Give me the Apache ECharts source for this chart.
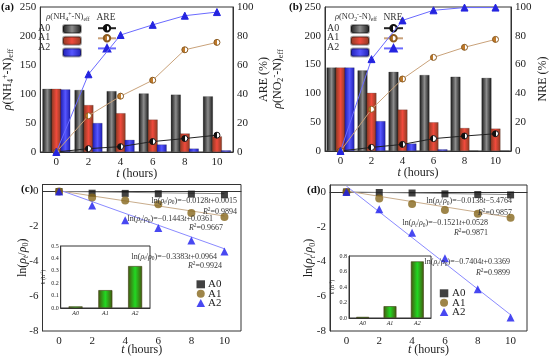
<!DOCTYPE html>
<html><head><meta charset="utf-8">
<script src="https://cdn.jsdelivr.net/npm/echarts@6/dist/echarts.min.js"></script>
<style>html,body{margin:0;padding:0;background:#fff}#c{width:550px;height:357px}</style>
</head><body><div id="c"></div>
<script>
// ---- data ----
const times = ['0','2','4','6','8','10'];
// panel (a): rho(NH4+-N)eff (left axis) and ARE % (right axis)
const aBarA0 = [109, 107, 105, 101, 99, 96];
const aBarA1 = [109, 81, 67, 56, 32, 27];
const aBarA2 = [108, 50, 21, 13, 6, 3];
const areA0 = [0, 2.3, 3.7, 7.2, 9.3, 11.6];
const areA1 = [0, 25, 38.5, 49.5, 70.5, 75.6];
const areA2 = [0, 53.6, 80.7, 87.7, 94, 96.5];
// panel (b): rho(NO2--N)eff and NRE %
const bBarA0 = [145, 140, 137.5, 132, 129, 127];
const bBarA1 = [145, 101, 72, 50, 40, 39];
const bBarA2 = [145, 52, 13, 3, 0.4, 0.4];
const nreA0 = [0, 2.5, 4.6, 8.6, 10.4, 12];
const nreA1 = [0, 29, 50, 65, 72, 77.5];
const nreA2 = [0, 63.8, 90.7, 97.7, 99.6, 99.6];
// panel (c): ln(rho_t/rho_0)
const cA0 = [0, -0.1, -0.11, -0.13, -0.15, -0.19];
const cA1 = [0, -0.34, -0.52, -0.73, -1.24, -1.47];
const cA2 = [0, -0.8, -1.65, -2.1, -2.81, -3.44];
// fit line values at t=0 and t=10
const cFitA0 = [0.0015, -0.1265];
const cFitA1 = [0.036, -1.407];
const cFitA2 = [0.096, -3.287];
// panel (d)
const dA0 = [0, -0.03, -0.06, -0.11, -0.15, -0.17];
const dA1 = [0, -0.37, -0.69, -1.04, -1.25, -1.48];
const dA2 = [0, -1.0, -2.35, -3.81, -5.6, -7.23];
const dFitA0 = [0, -0.15];
const dFitA1 = [0.053, -1.468];
const dFitA2 = [0.337, -7.067];
// insets: rate constants k (h^-1)
const insetCats = ['A0','A1','A2'];
const kC = [0.0128, 0.144, 0.338];
const kD = [0.014, 0.152, 0.73];
const seriesNames = ['A0','A1','A2'];
const eqC = [
  ['−0.0128', '+0.0015', '0.9894'],
  ['−0.1443', '+0.0361', '0.9667'],
  ['−0.3383', '+0.0964', '0.9924']
];
const eqD = [
  ['−0.0138', '−5.4764', '0.9857'],
  ['−0.1521', '+0.0528', '0.9871'],
  ['−0.7404', '+0.3369', '0.9899']
];

// ---- styles ----
const F = "'Liberation Serif', 'Times New Roman', serif";
const G = echarts.graphic;
const hg = (a, b) => new G.LinearGradient(0, 0, 1, 0, [{offset: 0, color: a}, {offset: 0.5, color: b}, {offset: 1, color: a}]);
const half = (c) => new G.LinearGradient(0, 0, 1, 0, [{offset: 0, color: c}, {offset: 0.5, color: c}, {offset: 0.5, color: '#fff'}, {offset: 1, color: '#fff'}]);
const colA0 = hg('#151515', '#8c8c8c');
const colA1 = hg('#8a3a22', '#f04a3c');
const colA2 = hg('#1c1cb0', '#5656ff');
const colK = hg('#45560f', '#22d822');
const mkRich = (s) => ({
  i: {fontFamily: F, fontStyle: 'italic', fontSize: s, color: '#222'},
  sub: {fontFamily: F, fontSize: s * 0.68, padding: [s * 0.55, 0, 0, 0], color: '#222'},
  isub: {fontFamily: F, fontStyle: 'italic', fontSize: s * 0.68, padding: [s * 0.55, 0, 0, 0], color: '#222'},
  sup: {fontFamily: F, fontSize: s * 0.68, padding: [0, 0, s * 0.5, 0], color: '#222'}
});
const rich = mkRich(12);
const richS = mkRich(8);
const axLine = {lineStyle: {color: '#333', width: 1}};
const tick = {inside: true, length: 3, lineStyle: {color: '#333'}};
const lab = {fontFamily: F, fontSize: 11, color: '#222'};

function xCat(gi, extra) {
  return Object.assign({
    type: 'category', gridIndex: gi, data: times, boundaryGap: true,
    axisLine: axLine, axisTick: Object.assign({alignWithLabel: true}, tick),
    axisLabel: Object.assign({margin: 5}, lab),
    name: '{i|t} (hours)', nameLocation: 'middle', nameGap: 15.5, nameMoveOverlap: false,
    nameTextStyle: {fontFamily: F, fontSize: 12, color: '#222', rich: rich}
  }, extra || {});
}
function yVal(gi, opts) {
  return Object.assign({
    type: 'value', gridIndex: gi, splitLine: {show: false},
    axisLine: Object.assign({show: true}, axLine), axisTick: tick,
    axisLabel: Object.assign({margin: 4}, lab),
    nameLocation: 'middle', nameRotate: 90, nameMoveOverlap: false,
    nameTextStyle: {fontFamily: F, fontSize: 12, color: '#222', rich: rich}
  }, opts);
}
const grids = [
  {left: 36, top: 7, width: 197, height: 145},
  {left: 325, top: 7, width: 189, height: 144},
  {left: 42.5, top: 184.5, width: 198.5, height: 148.5},
  {left: 330, top: 185, width: 197, height: 148},
  {left: 60.7, top: 246, width: 89.3, height: 62},
  {left: 349, top: 256, width: 82, height: 62}
].map((g, i) => Object.assign({show: true, borderColor: '#333', borderWidth: 1, backgroundColor: i >= 4 ? '#fff' : 'transparent', z: i >= 4 ? 5 : 0}, g));

const insetX = (gi) => ({type: 'category', gridIndex: gi, data: insetCats, axisLine: axLine, axisTick: {show: false},
  axisLabel: {fontFamily: F, fontSize: 6, fontStyle: 'italic', color: '#222', margin: 2}, z: 6});
const xAxis = [xCat(0), xCat(1), xCat(2, {nameGap: 13}), xCat(3, {nameGap: 13}), insetX(4), insetX(5)];
const hideOdd = v => (Math.abs(v % 2) < 1e-9 ? String(v) : '');
const insetY = (gi, max, itv, gap) => yVal(gi, {min: 0, max: max, interval: itv, name: '{i|k} (h{sup|-1})', nameGap: gap, z: 6,
    axisTick: {inside: true, length: 2}, nameTextStyle: {fontFamily: F, fontSize: 6, color: '#222', rich: mkRich(6)},
    axisLabel: {fontFamily: F, fontSize: 6, color: '#222', margin: 2, formatter: v => v.toFixed(1)}});
const yAxis = [
  yVal(0, {min: 0, max: 250, interval: 50, name: '{i|ρ}(NH{sub|4}{sup|+}-N){sub|eff}', nameGap: 25}),
  yVal(0, {min: 0, max: 100, interval: 20, position: 'right', name: 'ARE (%)', nameGap: 25}),
  yVal(1, {min: 0, max: 250, interval: 50, name: '{i|ρ}(NO{sub|2}{sup|-}-N){sub|eff}', nameGap: 40}),
  yVal(1, {min: 0, max: 100, interval: 20, position: 'right', name: 'NRE (%)', nameGap: 26}),
  yVal(2, {min: -8, max: 0.4, interval: 2, name: 'ln({i|ρ}{isub|t}/{i|ρ}{sub|0})', nameGap: 12.5,
    axisLabel: Object.assign({margin: 4, formatter: hideOdd}, lab)}),
  yVal(3, {min: -8, max: 0.4, interval: 2, name: 'ln({i|ρ}{isub|t}/{i|ρ}{sub|0})', nameGap: 13.5,
    axisLabel: Object.assign({margin: 4, formatter: hideOdd}, lab)}),
  insetY(4, 0.5, 0.1, 14),
  insetY(5, 0.8, 0.2, 13)
];

function bar(name, xi, yi, data, color) {
  return {type: 'bar', name: name, xAxisIndex: xi, yAxisIndex: yi, data: data, barWidth: 10, barGap: '-10%',
    itemStyle: {color: color, borderColor: 'rgba(0,0,0,0.35)', borderWidth: 0.5}};
}
function rline(name, xi, yi, data, lc, sym, fill, bc, size) {
  return {type: 'line', name: name, xAxisIndex: xi, yAxisIndex: yi, data: data, symbol: sym, symbolSize: size,
    lineStyle: {color: lc, width: 1}, itemStyle: {color: fill, borderColor: bc, borderWidth: 1}, z: 4};
}
function pts(name, xi, yi, data, sym, color, size) {
  return {type: 'scatter', name: name, xAxisIndex: xi, yAxisIndex: yi, data: data, symbol: sym, symbolSize: size,
    itemStyle: {color: color}, z: 4};
}
function fit(name, xi, yi, f, color) {
  return {type: 'line', name: name, xAxisIndex: xi, yAxisIndex: yi,
    data: [[times[0], f[0]], [times[times.length - 1], f[1]]], symbol: 'none',
    lineStyle: {color: color, width: 1}, z: 3, silent: true};
}
const fitCols = ['#8a8a8a', '#c9ad8c', '#8a8aff'];
const series = [
  bar('a-A0', 0, 0, aBarA0, colA0), bar('a-A1', 0, 0, aBarA1, colA1), bar('a-A2', 0, 0, aBarA2, colA2),
  rline('aL-A0', 0, 1, areA0, '#222', 'circle', half('#111'), '#111', 6),
  rline('aL-A1', 0, 1, areA1, '#c9a27a', 'circle', half('#c07a2a'), '#8a5a20', 6),
  rline('aL-A2', 0, 1, areA2, '#6a6aff', 'triangle', '#2424e0', '#2424e0', 7),
  bar('b-A0', 1, 2, bBarA0, colA0), bar('b-A1', 1, 2, bBarA1, colA1), bar('b-A2', 1, 2, bBarA2, colA2),
  rline('bL-A0', 1, 3, nreA0, '#222', 'circle', half('#111'), '#111', 6),
  rline('bL-A1', 1, 3, nreA1, '#c9a27a', 'circle', half('#c07a2a'), '#8a5a20', 6),
  rline('bL-A2', 1, 3, nreA2, '#6a6aff', 'triangle', '#2424e0', '#2424e0', 7),
  fit('cf0', 2, 4, cFitA0, fitCols[0]), fit('cf1', 2, 4, cFitA1, fitCols[1]), fit('cf2', 2, 4, cFitA2, fitCols[2]),
  pts('c-A0', 2, 4, cA0, 'rect', '#111', 7), pts('c-A1', 2, 4, cA1, 'circle', '#86661c', 8), pts('c-A2', 2, 4, cA2, 'triangle', '#1a1aee', 8),
  fit('df0', 3, 5, dFitA0, fitCols[0]), fit('df1', 3, 5, dFitA1, fitCols[1]), fit('df2', 3, 5, dFitA2, fitCols[2]),
  pts('d-A0', 3, 5, dA0, 'rect', '#111', 7), pts('d-A1', 3, 5, dA1, 'circle', '#86661c', 8), pts('d-A2', 3, 5, dA2, 'triangle', '#1a1aee', 8),
  {type: 'bar', name: 'kc', xAxisIndex: 4, yAxisIndex: 6, data: kC, barWidth: '47%', z: 7,
   itemStyle: {color: colK, borderColor: '#3a3a10', borderWidth: 0.6}},
  {type: 'bar', name: 'kd', xAxisIndex: 5, yAxisIndex: 7, data: kD, barWidth: '47%', z: 7,
   itemStyle: {color: colK, borderColor: '#3a3a10', borderWidth: 0.6}}
];
function iconLegend(p, left, top, w, h, gap) {
  return {orient: 'vertical', left: left, top: top, padding: 0, itemWidth: w, itemHeight: h, itemGap: gap,
    data: seriesNames.map(s => p + '-' + s), formatter: () => '', selectedMode: false,
    textStyle: {fontSize: 1, lineHeight: 1, padding: 0}};
}
const legend = [
  iconLegend('a', 62, 24, 18, 8, 1.7), iconLegend('aL', 97, 24, 18, 8, 1.7),
  iconLegend('b', 350, 24, 18, 8, 1.7), iconLegend('bL', 383, 24, 19, 8, 1.7),
  iconLegend('c', 196.5, 280.3, 8.5, 8, 1.35), iconLegend('d', 439.8, 289.3, 8.5, 8, 1.35)
];

function txt(x, y, s, opts) {
  return Object.assign({type: 'text', x: x, y: y, z: 10,
    style: Object.assign({text: s, fontFamily: F, fontSize: 8, fill: '#333', align: 'right', verticalAlign: 'middle', rich: richS}, opts || {})});
}
const eqStr = e => 'ln({i|ρ}{isub|t}/{i|ρ}{sub|0})=' + e[0] + '{i|t}' + e[1];
const r2Str = e => '{i|R}{sup|2}=' + e[2];
const bold = {fontSize: 11, fontWeight: 'bold', align: 'left', fill: '#111'};
const rich9 = mkRich(8.5);
const graphic = [
  txt(1, 7, '(a)', bold), txt(289, 7, '(b)', bold), txt(21, 189, '(c)', bold), txt(307, 190, '(d)', bold),
  txt(68, 17, '{i|ρ}(NH{sub|4}{sup|+}-N){sub|eff}', {align: 'center', fontSize: 8.5, rich: rich9}),
  txt(106, 17, 'ARE', {align: 'center', fontSize: 9.5}),
  txt(356, 17, '{i|ρ}(NO{sub|2}{sup|-}-N){sub|eff}', {align: 'center', fontSize: 8.5, rich: rich9}),
  txt(393, 17, 'NRE', {align: 'center', fontSize: 9.5})
];
seriesNames.forEach((s, k) => {
  graphic.push(txt(38, 28 + k * 9.7, s, {align: 'left', fontSize: 10}));
  graphic.push(txt(327, 28 + k * 9.7, s, {align: 'left', fontSize: 10}));
  graphic.push(txt(208, 284.3 + k * 9.35, s, {align: 'left', fontSize: 11, fill: '#222'}));
  graphic.push(txt(452, 293.3 + k * 9.35, s, {align: 'left', fontSize: 11, fill: '#222'}));
});
graphic.push(
  txt(237, 200.7, eqStr(eqC[0])), txt(237, 211.7, r2Str(eqC[0])),
  txt(213, 219, eqStr(eqC[1])), txt(223, 228, r2Str(eqC[1])),
  txt(217, 256.7, eqStr(eqC[2])), txt(222, 266, r2Str(eqC[2])),
  txt(512, 201, eqStr(eqD[0])), txt(512, 212.7, r2Str(eqD[0])),
  txt(488, 223, eqStr(eqD[1])), txt(488, 233, r2Str(eqD[1])),
  txt(510, 262, eqStr(eqD[2])), txt(510, 273, r2Str(eqD[2]))
);

const chart = echarts.init(document.getElementById('c'), null, {renderer: 'canvas'});
chart.setOption({animation: false, backgroundColor: '#fff', textStyle: {fontFamily: F},
  grid: grids, xAxis: xAxis, yAxis: yAxis, series: series, legend: legend, graphic: graphic});
</script></body></html>
